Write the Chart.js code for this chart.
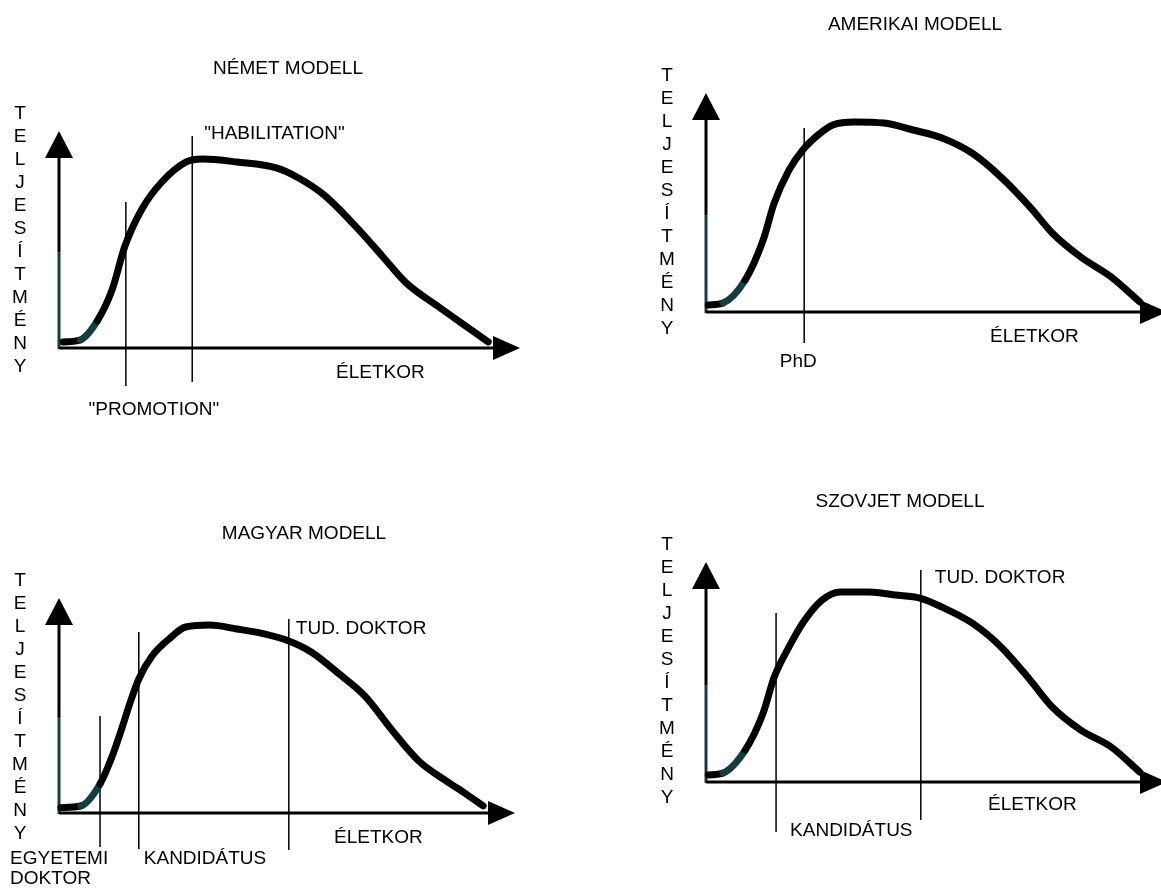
<!DOCTYPE html>
<html>
<head>
<meta charset="utf-8">
<script src="https://cdn.jsdelivr.net/npm/chart.js@4.4.1/dist/chart.umd.min.js"></script>
<style>
  html, body { margin: 0; padding: 0; background: #fff; overflow: hidden; }
  body { width: 1161px; height: 889px; position: relative; }
  canvas { position: absolute; }
</style>
</head>
<body>
<canvas id="nemet"></canvas>
<canvas id="amerikai"></canvas>
<canvas id="magyar"></canvas>
<canvas id="szovjet"></canvas>
<script>
// age (0 = y axis, 100 = arrow tip) vs. performance (0 = x axis, 100 = arrow tip)
const nemetAge  = [0.9, 4.6, 8.3, 11.5, 14.3, 18.0, 22.3, 27.5, 31.2, 38.6, 47.3, 51.6, 57.5, 64.9, 70.1, 75.3, 82.4, 89.8, 93.1];
const nemetPerf = [2.8, 3.7, 12.5, 26.7, 47.0, 64.1, 76.5, 85.7, 87.1, 85.7, 82.9, 78.8, 70.5, 54.8, 42.4, 30.0, 18.9, 7.8, 2.8];
const nemetMarkAge  = [14.5, 28.9];
const nemetMarkText = [['"PROMOTION"'], ['"HABILITATION"']];

const amerikaiAge  = [0.5, 3.7, 8.5, 12.4, 14.8, 18.0, 21.0, 24.3, 27.5, 32.3, 38.6, 44.9, 51.2, 57.7, 64.0, 70.3, 75.1, 81.3, 87.9, 94.1];
const amerikaiPerf = [3.2, 4.1, 14.6, 32.9, 49.8, 64.8, 74.0, 80.8, 85.4, 86.8, 86.3, 83.1, 79.5, 72.6, 61.6, 47.9, 36.1, 25.1, 16.0, 4.6];
const amerikaiMarkAge  = [21.3];
const amerikaiMarkText = [['PhD']];

const magyarAge  = [0.4, 4.8, 9.0, 11.6, 13.8, 15.8, 17.5, 20.4, 24.1, 27.8, 33.1, 39.0, 45.0, 50.4, 55.3, 61.2, 67.1, 73.0, 78.9, 84.9, 89.3, 93.0];
const magyarPerf = [2.5, 3.3, 13.5, 26.0, 39.5, 52.6, 62.3, 73.0, 80.9, 86.5, 87.4, 85.6, 83.3, 80.0, 74.9, 65.1, 54.4, 38.6, 24.2, 14.9, 8.8, 3.3];
const magyarMarkAge  = [9.0, 17.5, 50.4];
const magyarMarkText = [['EGYETEMI', 'DOKTOR'], ['KANDIDÁTUS'], ['TUD. DOKTOR']];

const szovjetAge  = [0.5, 3.7, 8.5, 12.4, 14.8, 18.0, 21.0, 25.2, 29.1, 35.4, 41.0, 46.4, 51.2, 57.7, 64.0, 70.3, 75.1, 81.3, 87.9, 94.1];
const szovjetPerf = [3.2, 4.1, 14.5, 31.4, 47.7, 61.4, 72.3, 82.7, 86.4, 86.4, 85.0, 83.6, 79.5, 72.3, 61.4, 46.4, 34.1, 23.6, 15.9, 4.5];
const szovjetMarkAge  = [15.2, 46.6];
const szovjetMarkText = [['KANDIDÁTUS'], ['TUD. DOKTOR']];

const titles = ['NÉMET MODELL', 'AMERIKAI MODELL', 'MAGYAR MODELL', 'SZOVJET MODELL'];
const xAxisLabel = 'ÉLETKOR';
const yAxisLabel = 'TELJESÍTMÉNY';

const ink = '#000';
const teal = '#143e3e';
const font = '19px "Liberation Sans", Arial, sans-serif';

// page layout: axis origin, arrow tips, text anchors (page pixels)
const panels = [
  { id: 'nemet', age: nemetAge, perf: nemetPerf, marks: nemetMarkAge, markText: nemetMarkText,
    box: { left: 0, top: 0, width: 580, height: 444 }, origin: [59, 348], tip: [520, 131],
    titleAt: [288, 69], xLabelAt: [336, 373],
    markSpan: [[202, 386], [136, 382]],
    markTextAt: [{ dx: 28, y: 410, align: 'center' }, { dx: 12, y: 134, align: 'left' }] },
  { id: 'amerikai', age: amerikaiAge, perf: amerikaiPerf, marks: amerikaiMarkAge, markText: amerikaiMarkText,
    box: { left: 580, top: 0, width: 600, height: 444 }, origin: [706, 312], tip: [1167, 93],
    titleAt: [915, 25], xLabelAt: [990, 337],
    markSpan: [[128, 343]],
    markTextAt: [{ dx: -6, y: 362, align: 'center' }] },
  { id: 'magyar', age: magyarAge, perf: magyarPerf, marks: magyarMarkAge, markText: magyarMarkText,
    box: { left: 0, top: 444, width: 580, height: 445 }, origin: [59, 813], tip: [515, 598],
    titleAt: [304, 534], xLabelAt: [334, 838],
    markSpan: [[716, 847], [632, 849], [619, 850]],
    markTextAt: [{ dx: -90, y: 859, align: 'left' }, { dx: 5, y: 859, align: 'left' }, { dx: 7, y: 629, align: 'left' }] },
  { id: 'szovjet', age: szovjetAge, perf: szovjetPerf, marks: szovjetMarkAge, markText: szovjetMarkText,
    box: { left: 580, top: 444, width: 600, height: 445 }, origin: [706, 782], tip: [1167, 562],
    titleAt: [900, 502], xLabelAt: [988, 805],
    markSpan: [[613, 832], [570, 820]],
    markTextAt: [{ dx: 14, y: 831, align: 'left' }, { dx: 14, y: 578, align: 'left' }] }
];

function text(ctx, str, x, y, align) {
  ctx.textAlign = align;
  ctx.fillText(str, x, y);
}

// hand-drawn style axes, arrows and lettering
const sketch = {
  id: 'sketch',
  beforeDatasetsDraw(chart, args, o) {
    const { ctx, chartArea: a } = chart;
    const head = 27;
    const split = a.bottom - (a.bottom - a.top) * 0.44;
    ctx.save();
    ctx.lineWidth = 3;
    ctx.strokeStyle = teal;
    ctx.beginPath(); ctx.moveTo(a.left, a.bottom + 1); ctx.lineTo(a.left, split); ctx.stroke();
    ctx.strokeStyle = ink;
    ctx.beginPath(); ctx.moveTo(a.left, split); ctx.lineTo(a.left, a.top + head - 1); ctx.stroke();
    ctx.beginPath(); ctx.moveTo(a.left, a.bottom); ctx.lineTo(a.right - head + 1, a.bottom); ctx.stroke();
    ctx.fillStyle = ink;
    ctx.beginPath();
    ctx.moveTo(a.left, a.top); ctx.lineTo(a.left - 14, a.top + head); ctx.lineTo(a.left + 14, a.top + head);
    ctx.closePath(); ctx.fill();
    ctx.beginPath();
    ctx.moveTo(a.right, a.bottom); ctx.lineTo(a.right - head, a.bottom - 12); ctx.lineTo(a.right - head, a.bottom + 12);
    ctx.closePath(); ctx.fill();
    ctx.restore();
  },
  afterDraw(chart, args, o) {
    const { ctx, chartArea: a } = chart;
    const x = chart.scales.x;
    const ox = o.box.left, oy = o.box.top;
    ctx.save();
    ctx.fillStyle = ink;
    ctx.font = font;
    ctx.textBaseline = 'middle';
    text(ctx, o.title, o.titleAt[0] - ox, o.titleAt[1] - oy, 'center');
    text(ctx, xAxisLabel, o.xLabelAt[0] - ox, o.xLabelAt[1] - oy, 'left');
    o.markText.forEach((lines, i) => {
      const at = o.markTextAt[i];
      const px = x.getPixelForValue(o.marks[i]) + at.dx;
      lines.forEach((s, j) => text(ctx, s, px, at.y - oy + j * 20, at.align));
    });
    [...yAxisLabel].forEach((ch, i) => text(ctx, ch, a.left - 39, a.top - 17 + i * 23, 'center'));
    ctx.restore();
  }
};

panels.forEach((p, k) => {
  const el = document.getElementById(p.id);
  el.width = p.box.width;
  el.height = p.box.height;
  el.style.left = p.box.left + 'px';
  el.style.top = p.box.top + 'px';
  const h = p.origin[1] - p.tip[1];
  const toPerf = py => (p.origin[1] - py) / h * 100;

  const datasets = [{
    data: p.age.map((a, i) => ({ x: a, y: p.perf[i] })),
    borderColor: ink,
    borderWidth: 7,
    borderCapStyle: 'round',
    borderJoinStyle: 'round',
    pointRadius: 0,
    cubicInterpolationMode: 'monotone',
    clip: false,
    segment: { borderColor: c => c.p0DataIndex === 1 ? teal : ink }
  }];
  p.marks.forEach((m, i) => {
    datasets.push({
      data: [{ x: m, y: toPerf(p.markSpan[i][0]) }, { x: m, y: toPerf(p.markSpan[i][1]) }],
      borderColor: ink,
      borderWidth: 1.5,
      pointRadius: 0,
      clip: false
    });
  });

  new Chart(el, {
    type: 'line',
    data: { datasets },
    options: {
      responsive: false,
      animation: false,
      events: [],
      layout: {
        padding: {
          left: p.origin[0] - p.box.left,
          top: p.tip[1] - p.box.top,
          right: p.box.left + p.box.width - p.tip[0],
          bottom: p.box.top + p.box.height - p.origin[1]
        }
      },
      scales: {
        x: { type: 'linear', min: 0, max: 100, display: false },
        y: { type: 'linear', min: 0, max: 100, display: false }
      },
      plugins: {
        legend: { display: false },
        tooltip: { enabled: false },
        sketch: { title: titles[k], titleAt: p.titleAt, xLabelAt: p.xLabelAt, box: p.box,
                  marks: p.marks, markText: p.markText, markTextAt: p.markTextAt }
      }
    },
    plugins: [sketch]
  });
});
</script>
</body>
</html>
